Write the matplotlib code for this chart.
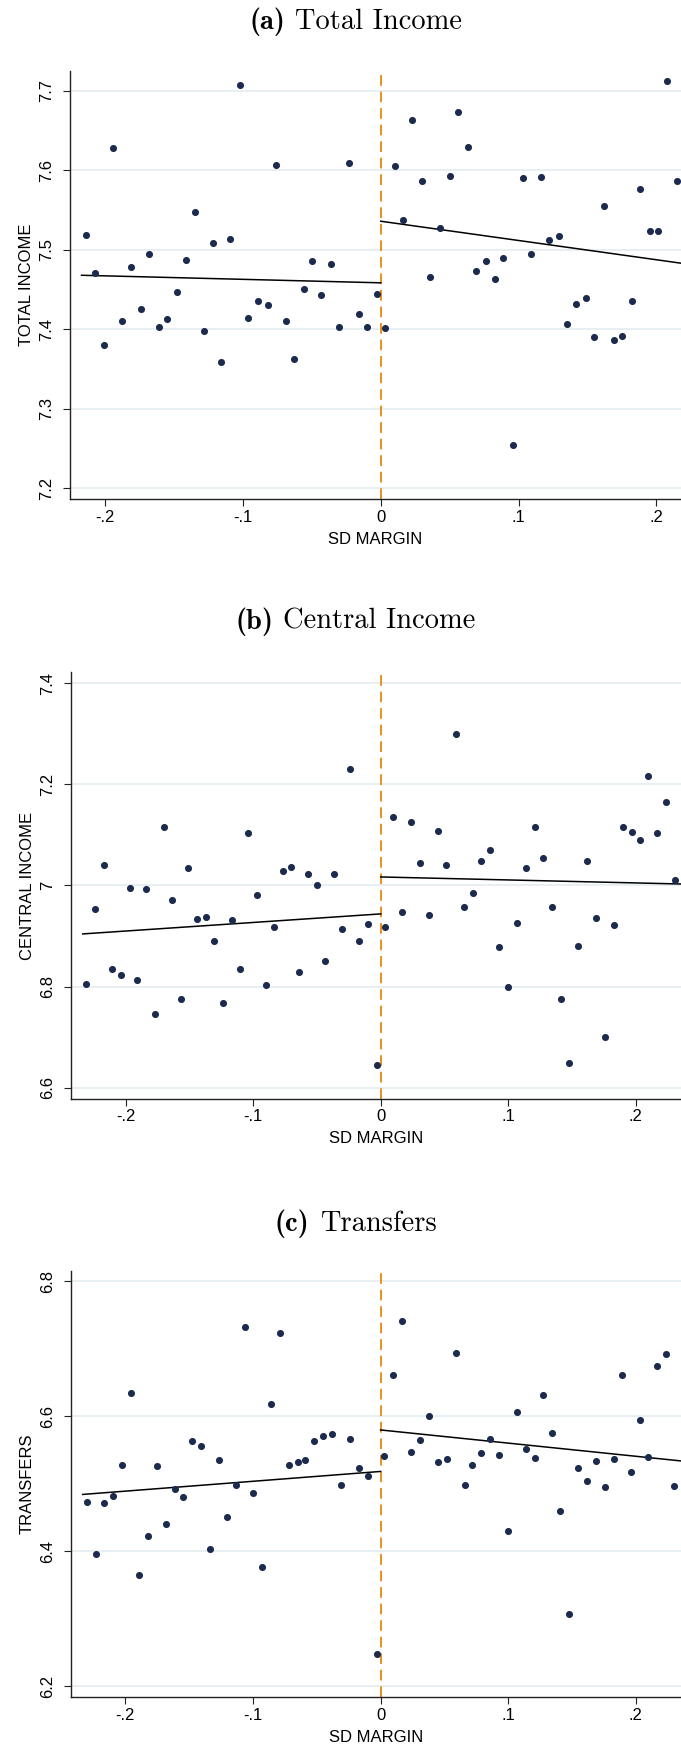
import numpy as np
import matplotlib
matplotlib.use("Agg")
import matplotlib.pyplot as plt

plt.rcParams['font.family'] = ['Liberation Sans', 'DejaVu Sans']

# binned means
a_x = [-0.214, -0.207, -0.201, -0.194, -0.188, -0.181, -0.174, -0.168, -0.161, -0.155,
       -0.148, -0.141, -0.135, -0.128, -0.122, -0.116, -0.109, -0.102, -0.096, -0.089,
       -0.082, -0.076, -0.069, -0.063, -0.056, -0.050, -0.043, -0.036, -0.030, -0.023,
       -0.016, -0.010, -0.003,
       0.003, 0.010, 0.016, 0.023, 0.030, 0.036, 0.043, 0.050, 0.056, 0.063,
       0.069, 0.076, 0.083, 0.089, 0.096, 0.103, 0.109, 0.116, 0.122, 0.129,
       0.135, 0.142, 0.149, 0.155, 0.162, 0.169, 0.175, 0.182, 0.188, 0.195,
       0.201, 0.208, 0.215]
a_y = [7.519, 7.471, 7.380, 7.628, 7.411, 7.478, 7.426, 7.495, 7.403, 7.413,
       7.447, 7.487, 7.548, 7.398, 7.508, 7.359, 7.514, 7.708, 7.414, 7.435,
       7.430, 7.607, 7.410, 7.363, 7.451, 7.486, 7.443, 7.482, 7.403, 7.609,
       7.419, 7.403, 7.445,
       7.402, 7.606, 7.537, 7.663, 7.586, 7.466, 7.527, 7.593, 7.673, 7.629,
       7.473, 7.486, 7.463, 7.490, 7.254, 7.590, 7.495, 7.592, 7.512, 7.518,
       7.407, 7.432, 7.439, 7.390, 7.555, 7.387, 7.392, 7.435, 7.576, 7.524,
       7.524, 7.712, 7.586]

b_x = [-0.231, -0.224, -0.217, -0.211, -0.204, -0.197, -0.191, -0.184, -0.177, -0.170,
       -0.164, -0.157, -0.151, -0.144, -0.137, -0.131, -0.124, -0.117, -0.110, -0.104,
       -0.097, -0.090, -0.084, -0.077, -0.070, -0.064, -0.057, -0.050, -0.044, -0.037,
       -0.030, -0.024, -0.017, -0.010, -0.003,
       0.003, 0.010, 0.017, 0.024, 0.031, 0.038, 0.045, 0.051, 0.059, 0.065,
       0.072, 0.079, 0.086, 0.093, 0.100, 0.107, 0.114, 0.121, 0.127, 0.134,
       0.141, 0.148, 0.155, 0.162, 0.169, 0.176, 0.183, 0.190, 0.197, 0.203,
       0.210, 0.217, 0.224, 0.231]
b_y = [6.805, 6.954, 7.041, 6.835, 6.822, 6.994, 6.812, 6.993, 6.745, 7.115,
       6.971, 6.776, 7.035, 6.933, 6.937, 6.890, 6.767, 6.932, 6.834, 7.103,
       6.981, 6.803, 6.918, 7.028, 7.037, 6.829, 7.022, 7.001, 6.850, 7.023,
       6.914, 7.231, 6.890, 6.923, 6.644,
       6.918, 7.135, 6.947, 7.125, 7.045, 6.941, 7.108, 7.040, 7.299, 6.957,
       6.985, 7.048, 7.070, 6.878, 6.800, 6.925, 7.034, 7.116, 7.054, 6.957,
       6.775, 6.649, 6.881, 7.049, 6.935, 6.701, 6.921, 7.116, 7.105, 7.089,
       7.216, 7.103, 7.165, 7.010]

c_x = [-0.230, -0.223, -0.217, -0.210, -0.203, -0.196, -0.189, -0.182, -0.175, -0.168,
       -0.161, -0.155, -0.148, -0.141, -0.134, -0.127, -0.120, -0.113, -0.106, -0.100,
       -0.093, -0.086, -0.079, -0.072, -0.065, -0.059, -0.052, -0.045, -0.038, -0.031,
       -0.024, -0.017, -0.010, -0.003,
       0.003, 0.010, 0.017, 0.024, 0.031, 0.038, 0.045, 0.052, 0.059, 0.066,
       0.072, 0.079, 0.086, 0.093, 0.100, 0.107, 0.114, 0.121, 0.127, 0.134,
       0.141, 0.148, 0.155, 0.162, 0.169, 0.176, 0.183, 0.189, 0.196, 0.203,
       0.210, 0.217, 0.224, 0.230]
c_y = [6.473, 6.396, 6.471, 6.482, 6.528, 6.634, 6.365, 6.423, 6.526, 6.440,
       6.492, 6.480, 6.563, 6.556, 6.404, 6.536, 6.451, 6.499, 6.732, 6.487,
       6.377, 6.618, 6.723, 6.528, 6.532, 6.536, 6.564, 6.571, 6.574, 6.498,
       6.567, 6.524, 6.512, 6.248,
       6.541, 6.661, 6.742, 6.547, 6.565, 6.601, 6.532, 6.537, 6.694, 6.499,
       6.528, 6.545, 6.567, 6.543, 6.430, 6.607, 6.552, 6.538, 6.631, 6.575,
       6.460, 6.307, 6.523, 6.504, 6.534, 6.496, 6.537, 6.661, 6.518, 6.595,
       6.540, 6.674, 6.692, 6.497]

# linear fits each side of the cutoff: (intercept at 0, slope, start / end x)
a_fit_left = (7.4585, -0.0438, -0.217)
a_fit_right = (7.536, -0.2425, 0.24)
b_fit_left = (6.9437, 0.1695, -0.2337)
b_fit_right = (7.0168, -0.059, 0.24)
c_fit_left = (6.5184, 0.146, -0.2335)
c_fit_right = (6.5799, -0.195, 0.24)

titles = ['(a)', '(b)', '(c)']
names = ['Total Income', 'Central Income', 'Transfers']
ylabels = ['TOTAL INCOME', 'CENTRAL INCOME', 'TRANSFERS']
yticks = [[7.2, 7.3, 7.4, 7.5, 7.6, 7.7], [6.6, 6.8, 7.0, 7.2, 7.4], [6.2, 6.4, 6.6, 6.8]]
yticklabels = [['7.2', '7.3', '7.4', '7.5', '7.6', '7.7'],
               ['6.6', '6.8', '7', '7.2', '7.4'],
               ['6.2', '6.4', '6.6', '6.8']]
xticks = [-0.2, -0.1, 0, 0.1, 0.2]
xticklabels = ['-.2', '-.1', '0', '.1', '.2']

W, H = 681, 1750
# axes boxes in pixels: left, top, bottom
boxes = [(69.7, 71, 499), (71, 672.3, 1098.7), (70.7, 1270.7, 1697)]
xlims = [(-0.2256, 0.2178), (-0.2429, 0.2355), (-0.2429, 0.2355)]
ylims = [(7.1865, 7.725), (6.578, 7.4218), (6.184, 6.816)]
title_y = [21.7, 621.7, 1224]

xs = [a_x, b_x, c_x]
ys = [a_y, b_y, c_y]
fits = [(a_fit_left, a_fit_right), (b_fit_left, b_fit_right), (c_fit_left, c_fit_right)]

fig = plt.figure(figsize=(W / 100, H / 100), dpi=100)
renderer = fig.canvas.get_renderer()

for i in range(3):
    l, t, b = boxes[i]
    ax = fig.add_axes([l / W, 1 - b / H, (W - l) / W, (b - t) / H])
    ax.set_xlim(*xlims[i])
    ax.set_ylim(*ylims[i])

    for yt in yticks[i]:
        ax.axhline(yt, color='#e6eef1', lw=1.3, zorder=0)

    ax.scatter(xs[i], ys[i], s=26, color='#1c2a4e', zorder=3, linewidths=0)

    left, right = fits[i]
    xl = np.array([left[2], 0])
    ax.plot(xl, left[0] + left[1] * xl, color='black', lw=1.1, zorder=2)
    xr = np.array([0, right[2]])
    ax.plot(xr, right[0] + right[1] * xr, color='black', lw=1.1, zorder=2)

    ax.axvline(0, color='#e8901c', lw=1.4, dashes=(5.5, 3), zorder=1)

    for side in ['top', 'right']:
        ax.spines[side].set_visible(False)
    for side in ['left', 'bottom']:
        ax.spines[side].set_color('#222222')
        ax.spines[side].set_linewidth(1.0)

    ax.set_xticks(xticks)
    ax.set_xticklabels(xticklabels)
    ax.set_yticks(yticks[i])
    ax.set_yticklabels(yticklabels[i])
    ax.tick_params(axis='both', length=4.7, width=0.8, color='#222222', labelsize=12, pad=3)
    ax.tick_params(axis='y', labelrotation=90, pad=6.5)
    for lab in ax.get_yticklabels():
        lab.set_va('center')

    ax.set_xlabel('SD MARGIN', fontsize=12, labelpad=5)
    ax.set_ylabel(ylabels[i], fontsize=12, labelpad=4)

    # title: bold tag + roman name in Computer Modern, centred as a pair
    yy = 1 - title_y[i] / H
    t1 = fig.text(0, yy, titles[i], family='cmb10', fontsize=20.5, ha='left', va='center')
    t2 = fig.text(0, yy, names[i], family='cmr10', fontsize=20.5, ha='left', va='center')
    w1 = t1.get_window_extent(renderer).width
    w2 = t2.get_window_extent(renderer).width
    gap = 10
    x0 = 355.6 - (w1 + gap + w2) / 2
    t1.set_x(x0 / W)
    t2.set_x((x0 + w1 + gap) / W)

fig.savefig('out.png', dpi=100)
